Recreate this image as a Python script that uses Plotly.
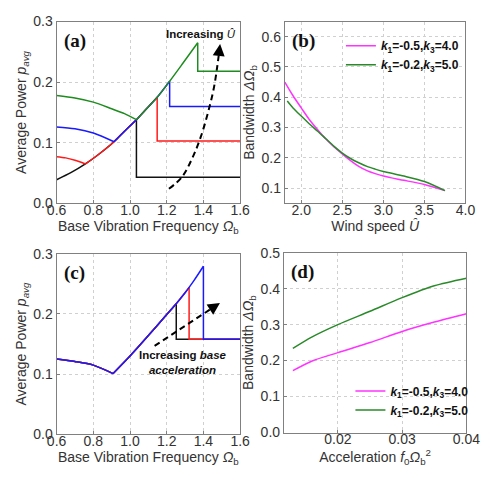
import plotly.graph_objects as go

# ---------------- data ----------------
# (a) average power vs base vibration frequency, increasing wind speed
# shared rising (resonant) branch
a_rise_x = [0.6, 0.68, 0.757, 0.83, 0.913, 0.97, 1.035, 1.09, 1.148, 1.216, 1.29, 1.369]
a_rise_y = [0.039, 0.051, 0.065, 0.081, 0.1016, 0.119, 0.138, 0.156, 0.175, 0.2015, 0.232, 0.265]
# left (decreasing) branches: black, red, blue, green
a_red_branch_x = [0.6, 0.65, 0.7, 0.757]
a_red_branch_y = [0.077, 0.075, 0.071, 0.065]
a_blue_branch_x = [0.6, 0.7, 0.8, 0.913]
a_blue_branch_y = [0.126, 0.123, 0.116, 0.1016]
a_green_branch_x = [0.6, 0.7, 0.8, 0.9, 0.97, 1.035]
a_green_branch_y = [0.178, 0.174, 0.167, 0.156, 0.148, 0.138]
a_start_x = [0.6, 0.757, 0.913, 1.035]     # where each curve joins the rising branch
a_peak_x = [1.035, 1.148, 1.216, 1.369]    # jump-down frequency
a_flat_y = [0.043, 0.103, 0.160, 0.218]    # level after the jump
a_arrow_x = [1.212, 1.282, 1.34, 1.386, 1.425, 1.456, 1.475, 1.487]
a_arrow_y = [0.024, 0.043, 0.075, 0.110, 0.150, 0.189, 0.225, 0.253]
a_arrow_tip = (1.491, 0.263)

# (b) bandwidth vs wind speed
b_mag_x = [1.8, 1.9, 2.0, 2.1, 2.2, 2.3, 2.4, 2.5, 2.6, 2.7, 2.8, 2.9, 3.0, 3.1, 3.25, 3.5, 3.75]
b_mag_y = [0.450, 0.405, 0.365, 0.326, 0.293, 0.262, 0.236, 0.213, 0.191, 0.172, 0.158, 0.148, 0.140, 0.134, 0.126, 0.112, 0.092]
b_grn_x = [1.83, 1.9, 2.0, 2.1, 2.2, 2.3, 2.4, 2.5, 2.6, 2.7, 2.8, 2.9, 3.0, 3.1, 3.25, 3.5, 3.75]
b_grn_y = [0.388, 0.365, 0.338, 0.312, 0.288, 0.263, 0.238, 0.216, 0.198, 0.184, 0.172, 0.163, 0.155, 0.149, 0.140, 0.122, 0.092]

# (c) average power vs frequency, increasing base acceleration
c_branch_x = [0.6, 0.7, 0.8, 0.908]
c_branch_y = [0.125, 0.121, 0.115, 0.101]
c_rise_x = [0.908, 1.0, 1.1, 1.2, 1.252, 1.3, 1.322, 1.35, 1.40]
c_rise_y = [0.101, 0.130, 0.164, 0.199, 0.217, 0.235, 0.244, 0.256, 0.279]
c_peak_x = [1.252, 1.322, 1.40]   # black, red, blue
c_flat_y = [0.158, 0.158, 0.158]
c_arrow_x = [1.134, 1.46]
c_arrow_y = [0.147, 0.212]
c_arrow_tip = (1.49, 0.218)

# (d) bandwidth vs base acceleration
d_mag_x = [0.013, 0.016, 0.02, 0.025, 0.03, 0.035, 0.04]
d_mag_y = [0.172, 0.199, 0.222, 0.250, 0.281, 0.307, 0.330]
d_grn_x = [0.013, 0.016, 0.02, 0.025, 0.03, 0.035, 0.04]
d_grn_y = [0.234, 0.266, 0.300, 0.337, 0.375, 0.408, 0.429]

legend_labels = ["<b><i>k</i><sub>1</sub>=-0.5,<i>k</i><sub>3</sub>=4.0</b>",
                 "<b><i>k</i><sub>1</sub>=-0.2,<i>k</i><sub>3</sub>=5.0</b>"]

# ---------------- styling ----------------
W, H = 489, 485
BLACK, RED, BLUE, GREEN, MAG = "#111111", "#ff1a1a", "#1a1aff", "#1e8c1e", "#ff33ff"
GREEN2 = "#2a8a2a"
LW = 1.5
FONT = "Liberation Sans, Arial, sans-serif"
TXT = "#333333"

fig = go.Figure()


def line(x, y, color, xa, ya, name=None, legend=None, show=False, shape="linear", dash=None):
    fig.add_trace(go.Scatter(x=x, y=y, mode="lines", xaxis=xa, yaxis=ya,
                             line=dict(color=color, width=LW, shape=shape, dash=dash,
                                       smoothing=0.8),
                             name=name, showlegend=show, legend=legend,
                             hoverinfo="skip"))


def rise_between(rx, ry, x0, x1):
    xs = [x for x in rx if x0 - 1e-9 <= x <= x1 + 1e-9]
    ys = [y for x, y in zip(rx, ry) if x0 - 1e-9 <= x <= x1 + 1e-9]
    return xs, ys


def resonance_curve(bx, by, rx, ry, x0, xp, flat, color, xa, ya, xmax=1.6):
    if bx:
        line(bx, by, color, xa, ya, shape="spline")
    xs, ys = rise_between(rx, ry, x0, xp)
    line(xs, ys, color, xa, ya, shape="spline")
    line([xs[-1], xs[-1], xmax], [ys[-1], flat, flat], color, xa, ya)


# (a)
a_branches = [([], []), (a_red_branch_x, a_red_branch_y),
              (a_blue_branch_x, a_blue_branch_y), (a_green_branch_x, a_green_branch_y)]
for (bx, by), x0, xp, fl, col in zip(a_branches, a_start_x, a_peak_x, a_flat_y,
                                     [BLACK, RED, BLUE, GREEN]):
    resonance_curve(bx, by, a_rise_x, a_rise_y, x0, xp, fl, col, "x", "y")
fig.add_trace(go.Scatter(x=a_arrow_x, y=a_arrow_y, mode="lines", xaxis="x", yaxis="y",
                         line=dict(color="black", width=2, dash="6px,4px", shape="spline"),
                         showlegend=False, hoverinfo="skip"))
# (b)
line(b_mag_x, b_mag_y, MAG, "x2", "y2", legend_labels[0], "legend", True, "spline")
line(b_grn_x, b_grn_y, GREEN2, "x2", "y2", legend_labels[1], "legend", True, "spline")
# (c)
for xp, fl, col in zip(c_peak_x, c_flat_y, [BLACK, RED, BLUE]):
    resonance_curve(c_branch_x, c_branch_y, c_rise_x, c_rise_y, c_rise_x[0], xp, fl,
                    col, "x3", "y3")
fig.add_trace(go.Scatter(x=c_arrow_x, y=c_arrow_y, mode="lines", xaxis="x3", yaxis="y3",
                         line=dict(color="black", width=2, dash="6px,4px"),
                         showlegend=False, hoverinfo="skip"))
# (d)
line(d_mag_x, d_mag_y, MAG, "x4", "y4", legend_labels[0], "legend2", True, "spline")
line(d_grn_x, d_grn_y, GREEN2, "x4", "y4", legend_labels[1], "legend2", True, "spline")


def ax(domain, rng, dtick, fmt, title, anchor, tick0=None, is_x=False):
    d = dict(domain=domain, range=rng, dtick=dtick, tickformat=fmt, anchor=anchor,
             showline=True, mirror=True, linecolor="#808080", linewidth=1,
             showgrid=True, gridcolor="#d0d0d0", griddash="dot", gridwidth=1,
             ticks="inside", ticklen=3, tickcolor="#808080",
             zeroline=False, tickfont=dict(family=FONT, size=14, color=TXT),
             title=dict(text=title, font=dict(family=FONT, size=14, color=TXT),
                        standoff=2 if is_x else 3))
    if is_x:
        d["ticklabelstandoff"] = -6
    if tick0 is not None:
        d["tick0"] = tick0
    return d


XL = [49 / W, 242 / W]
XR = [289 / W, 479 / W]
YT = [1 - 202 / H, 1 - 14 / H]
YB = [1 - 441 / H, 1 - 254 / H]

om = "<i>Ω</i><sub>b</sub>"
fig.update_layout(
    width=W, height=H, margin=dict(l=0, r=0, t=0, b=0),
    paper_bgcolor="white", plot_bgcolor="white",
    font=dict(family=FONT, color=TXT),
    xaxis=ax(XL, [0.6, 1.6], 0.2, ".1f", "Base Vibration Frequency " + om, "y", 0.6, True),
    yaxis=ax(YT, [0, 0.3], 0.1, ".1f", "Average Power <i>p</i><sub><i>avg</i></sub>", "x"),
    xaxis2=ax(XR, [1.8, 4.0], 0.5, ".1f", "Wind speed <i>Û</i>", "y2", 2.0, True),
    yaxis2=ax(YT, [0.05, 0.65], 0.1, ".1f", "Bandwidth <i>ΔΩ</i><sub>b</sub>", "x2", 0.1),
    xaxis3=ax(XL, [0.6, 1.6], 0.2, ".1f", "Base Vibration Frequency " + om, "y3", 0.6, True),
    yaxis3=ax(YB, [0, 0.3], 0.1, ".1f", "Average Power <i>p</i><sub><i>avg</i></sub>", "x3"),
    xaxis4=ax([288 / W, 480 / W], [0.0116, 0.04], 0.01, ".2f",
              "Acceleration <i>f</i><sub>0</sub><i>Ω</i><sub>b</sub><sup>2</sup>", "y4", 0.02, True),
    yaxis4=ax([1 - 439 / H, 1 - 253 / H], [0, 0.5], 0.1, ".1f", "Bandwidth <i>ΔΩ</i><sub>b</sub>", "x4"),
    legend=dict(x=348 / W, y=1 - 24 / H, xanchor="left", yanchor="top",
                bgcolor="rgba(0,0,0,0)", font=dict(family=FONT, size=12, color="#111"),
                tracegroupgap=0, itemwidth=30),
    legend2=dict(x=358 / W, y=1 - 381 / H, xanchor="left", yanchor="top",
                 bgcolor="rgba(0,0,0,0)", font=dict(family=FONT, size=12, color="#111"),
                 tracegroupgap=0, itemwidth=30),
)

SERIF = "Liberation Serif, Times New Roman, serif"
labels = [("(a)", "x", "y"), ("(b)", "x2", "y2"), ("(c)", "x3", "y3"), ("(d)", "x4", "y4")]
for txt, xa, ya in labels:
    fig.add_annotation(text="<b>" + txt + "</b>", xref=xa + " domain", yref=ya + " domain",
                       x=0.03, y=0.965, xanchor="left", yanchor="top", showarrow=False,
                       font=dict(family=SERIF, size=19, color="#111"))

fig.add_annotation(text="<b>Increasing</b> <i>Û</i>", xref="x", yref="y", x=1.386, y=0.279,
                   showarrow=False, font=dict(family=FONT, size=11.5, color="#111"))
fig.add_annotation(text="<b>Increasing <i>base</i></b><br><b><i>acceleration</i></b>",
                   xref="x3", yref="y3", x=1.287, y=0.12, showarrow=False,
                   font=dict(family=FONT, size=11.5, color="#111"))

# arrowheads
fig.add_annotation(x=a_arrow_tip[0], y=a_arrow_tip[1], ax=a_arrow_x[-1], ay=a_arrow_y[-1],
                   xref="x", yref="y", axref="x", ayref="y", text="", showarrow=True,
                   arrowhead=2, arrowsize=1.2, arrowwidth=2, arrowcolor="black")
fig.add_annotation(x=c_arrow_tip[0], y=c_arrow_tip[1], ax=c_arrow_x[-1], ay=c_arrow_y[-1],
                   xref="x3", yref="y3", axref="x3", ayref="y3", text="", showarrow=True,
                   arrowhead=2, arrowsize=1.2, arrowwidth=2, arrowcolor="black")

fig.write_html("out.html")
